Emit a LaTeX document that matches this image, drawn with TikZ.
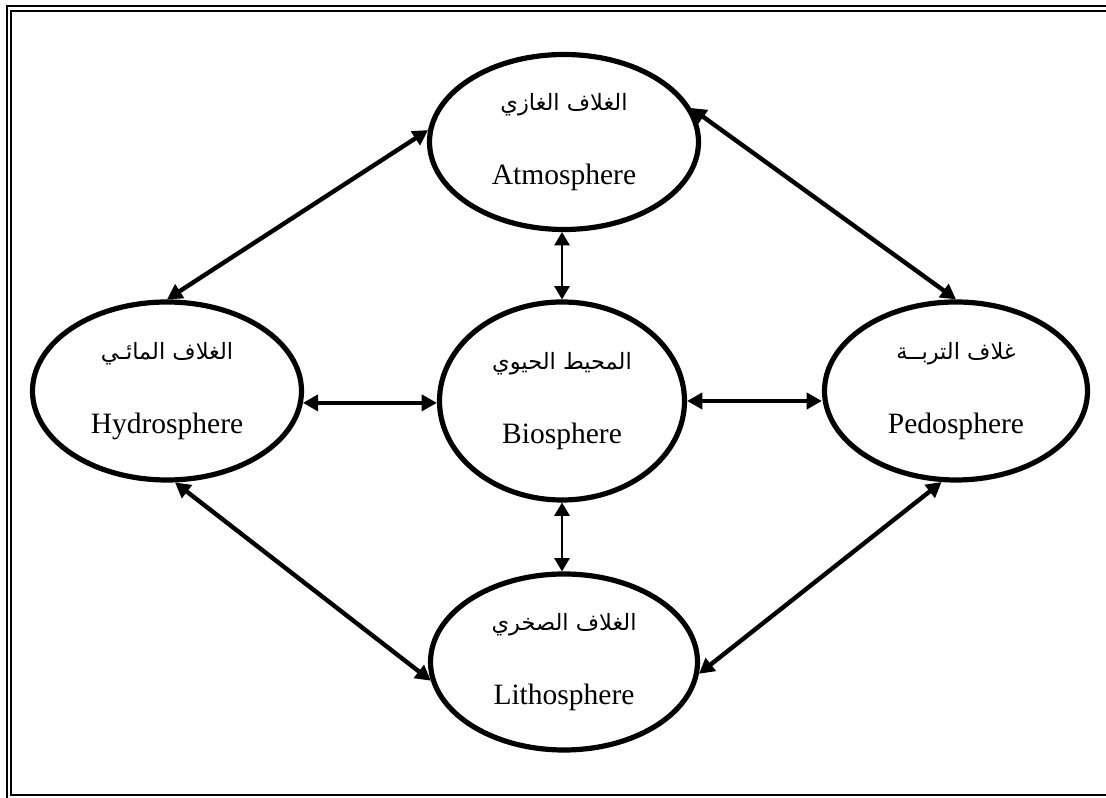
\documentclass[tikz,border=0pt]{standalone}
\usepackage{fontspec}
\setmainfont{Liberation Serif}
\newfontfamily\arabicfont[Script=Arabic]{DejaVu Sans}
\TeXXeTstate=1
\usetikzlibrary{arrows.meta,shapes.geometric}
\newcommand{\artext}[1]{{\arabicfont\fontsize{16}{20}\selectfont\beginR #1\endR}}

\begin{document}
\begin{tikzpicture}[
  sphere/.style={ellipse,draw,line width=0.13cm,align=center,inner sep=0pt,font=\fontsize{21}{25}\selectfont},
  bigarrow/.style={>={Triangle[length=0.38cm,width=0.4cm]},<->,line width=0.11cm},
  smallarrow/.style={>={Triangle[length=0.33cm,width=0.38cm]},<->,line width=0.05cm},
  frameline/.style={line width=0.05cm}]
\useasboundingbox (0,0) rectangle (27.65,19.95);
\draw[frameline] (0.1625,0) -- (0.1625,19.8) -- (27.65,19.8);
\draw[frameline] (27.65,0.0625) -- (0.275,0.0625) -- (0.275,19.675) -- (27.65,19.675);

\node[sphere,minimum width=6.725cm,minimum height=4.375cm] (atm) at (14.1,16.4) {\artext{الغلاف الغازي}\\[0.97cm]Atmosphere};
\node[sphere,minimum width=6.125cm,minimum height=4.95cm] (bio) at (14.05,9.925) {\artext{المحيط الحيوي}\\[0.97cm]Biosphere};
\node[sphere,minimum width=6.725cm,minimum height=4.45cm] (hyd) at (4.175,10.175) {\artext{الغلاف المائـي}\\[0.97cm]Hydrosphere};
\node[sphere,minimum width=6.575cm,minimum height=4.45cm] (ped) at (23.9,10.175) {\artext{غلاف التربــة}\\[0.97cm]Pedosphere};
\node[sphere,minimum width=6.675cm,minimum height=4.4cm] (lith) at (14.1,3.4) {\artext{الغلاف الصخري}\\[0.97cm]Lithosphere};

\draw[bigarrow] (atm.175) -- (hyd.north);
\draw[bigarrow] (atm.15) -- (ped.north);
\draw[bigarrow] (hyd.-85) -- (lith.188);
\draw[bigarrow] (lith.-5.5) -- (ped.261);
\draw[bigarrow] (hyd.-5) -- (hyd.-5 -| bio.west);
\draw[bigarrow] (bio.east) -- (bio.east -| ped.west);
\draw[smallarrow] (bio.north |- atm.south) -- (bio.north);
\draw[smallarrow] (bio.south) -- (bio.south |- lith.north);
\end{tikzpicture}
\end{document}
